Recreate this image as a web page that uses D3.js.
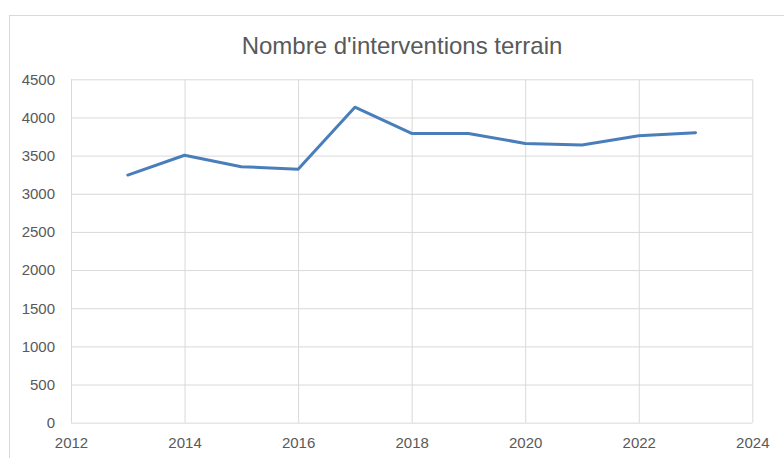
<!DOCTYPE html>
<html>
<head>
<meta charset="utf-8">
<script src="https://cdn.jsdelivr.net/npm/d3@7"></script>
<style>
  html, body { margin: 0; padding: 0; background: #fff; }
  svg { display: block; }
  text { font-family: "Liberation Sans", Arial, sans-serif; fill: #595959; }
</style>
</head>
<body>
<svg></svg>
<script>
const title = "Nombre d'interventions terrain";
const years = [2013, 2014, 2015, 2016, 2017, 2018, 2019, 2020, 2021, 2022, 2023];
const interventions = [3245, 3505, 3355, 3320, 4135, 3790, 3790, 3660, 3640, 3760, 3800];
const xTicks = [2012, 2014, 2016, 2018, 2020, 2022, 2024];
const yTicks = [0, 500, 1000, 1500, 2000, 2500, 3000, 3500, 4000, 4500];

const W = 784, H = 458;
const plotLeft = 71, plotRight = 752.3, plotTop = 79.3, plotBottom = 422.7;
const gridColor = "#d9d9d9";

const svg = d3.select("svg")
              .attr("width", W)
              .attr("height", H);

// chart frame (runs off the right and bottom of the picture)
svg.append("rect")
   .attr("x", 9.5)
   .attr("y", 15.5)
   .attr("width", 820)
   .attr("height", 500)
   .attr("fill", "#fff")
   .attr("stroke", gridColor)
   .attr("stroke-width", 1);

svg.append("text")
   .attr("x", 402)
   .attr("y", 53.5)
   .attr("text-anchor", "middle")
   .style("font-size", "24px")
   .text(title);

let x = d3.scaleLinear().domain([2012, 2024]).range([plotLeft, plotRight]);
let y = d3.scaleLinear().domain([0, 4500]).range([plotBottom, plotTop]);

let yAxis = d3.axisLeft(y)
              .tickValues(yTicks)
              .tickSizeInner(-(plotRight - plotLeft))
              .tickSizeOuter(0)
              .tickPadding(16)
              .tickFormat(d => d);

let xAxis = d3.axisBottom(x)
              .tickValues(xTicks)
              .tickSizeInner(-(plotBottom - plotTop))
              .tickSizeOuter(0)
              .tickPadding(15)
              .tickFormat(d => d);

const gy = svg.append("g")
   .attr("transform", `translate(${plotLeft}, 0)`)
   .call(yAxis);

const gx = svg.append("g")
   .attr("transform", `translate(0, ${plotBottom})`)
   .call(xAxis);

[gx, gy].forEach(g => {
  g.select(".domain").remove();
  g.selectAll(".tick line").attr("stroke", gridColor).attr("stroke-width", 1);
  g.selectAll(".tick text")
   .attr("fill", "#595959")
   .style("font-family", "'Liberation Sans', Arial, sans-serif")
   .style("font-size", "15px");
});

const line = d3.line()
               .x((d, i) => x(years[i]))
               .y(d => y(d));

svg.append("path")
   .datum(interventions)
   .attr("d", line)
   .attr("fill", "none")
   .attr("stroke", "#4a7ebb")
   .attr("stroke-width", 3)
   .attr("stroke-linejoin", "round")
   .attr("stroke-linecap", "round");
</script>
</body>
</html>
